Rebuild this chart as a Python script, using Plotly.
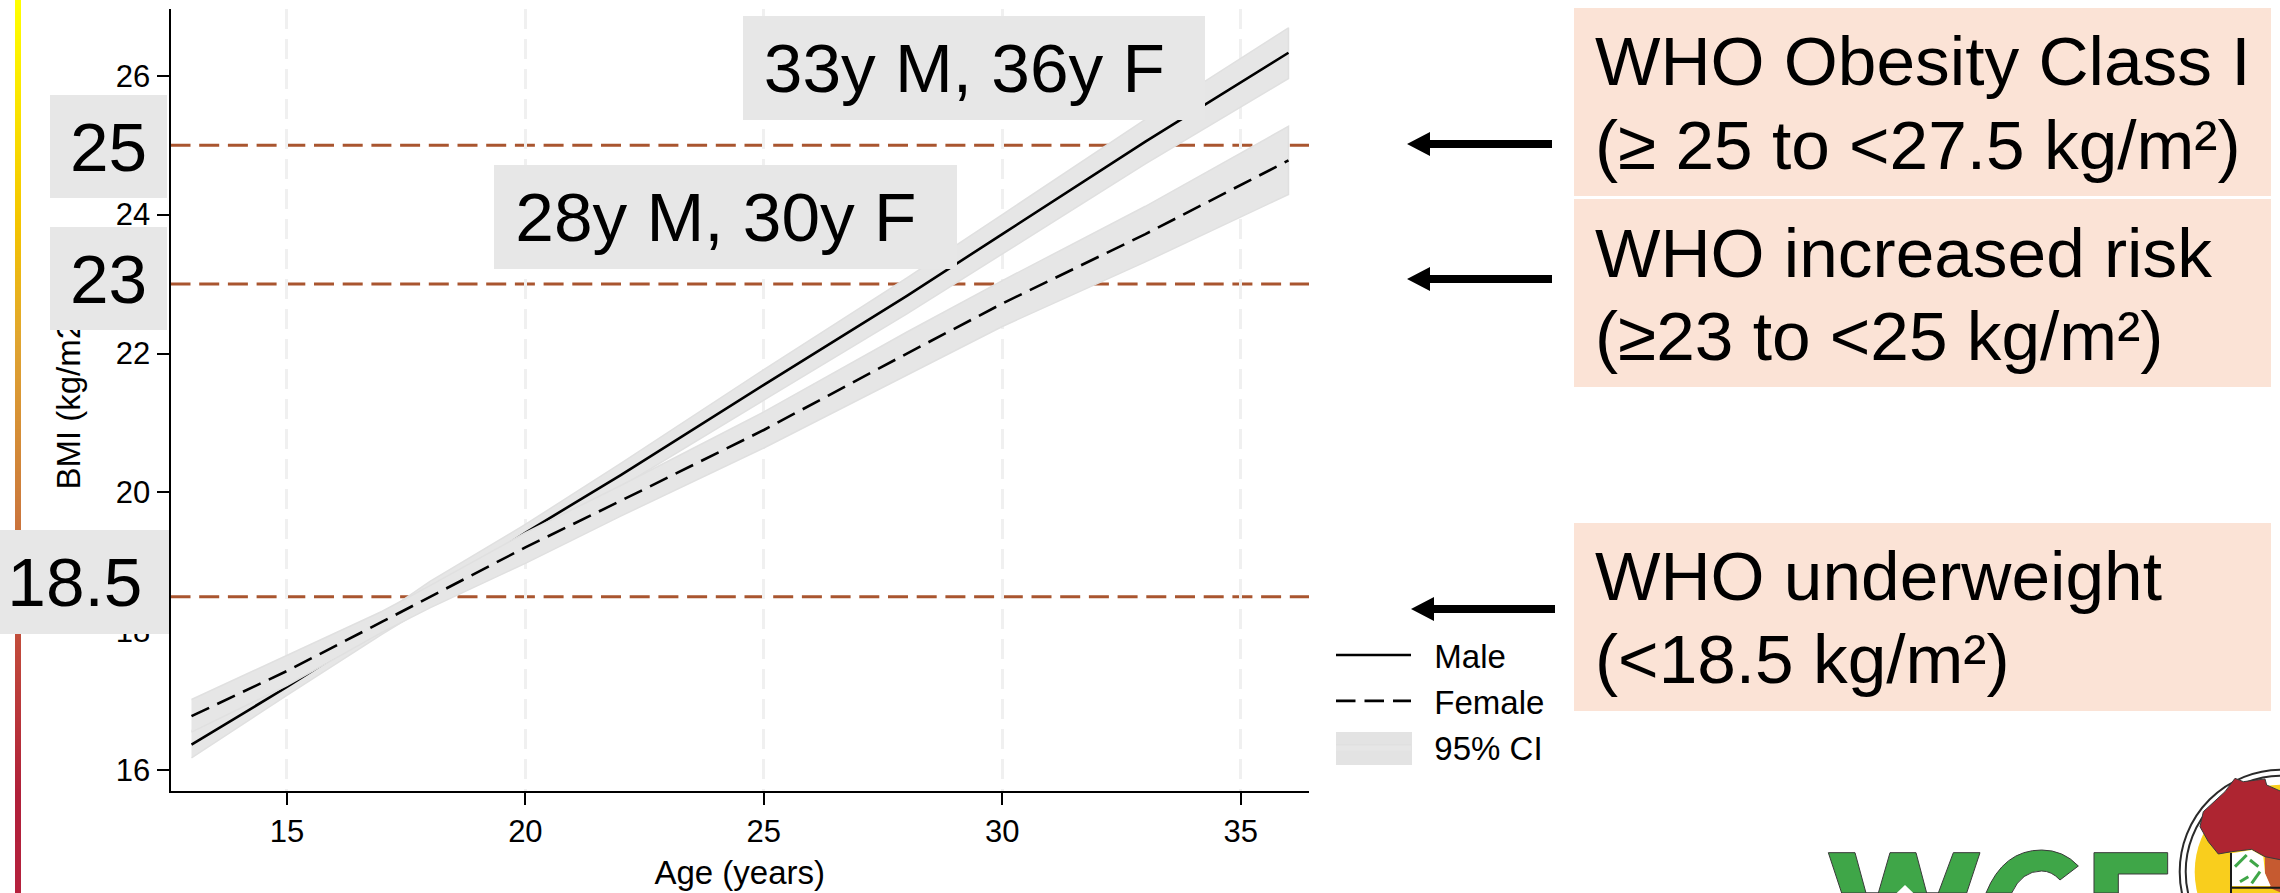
import plotly.graph_objects as go

W, H = 2280, 893

ages = [13, 15, 17, 18, 20, 22, 25, 28, 30, 33, 36]
male = [16.37, 17.20, 18.07, 18.53, 19.42, 20.25, 21.55, 22.83, 23.72, 25.05, 26.33]
male_lo = [16.18, 17.08, 17.96, 18.38, 19.28, 20.08, 21.33, 22.57, 23.44, 24.73, 25.96]
male_hi = [16.57, 17.35, 18.25, 18.72, 19.54, 20.42, 21.77, 23.09, 24.00, 25.37, 26.69]
female = [16.78, 17.43, 18.14, 18.50, 19.21, 19.88, 20.90, 22.00, 22.72, 23.72, 24.78]
female_lo = [16.55, 17.22, 17.99, 18.34, 18.98, 19.66, 20.64, 21.69, 22.39, 23.32, 24.29]
female_hi = [17.02, 17.66, 18.29, 18.66, 19.42, 20.10, 21.16, 22.31, 23.05, 24.12, 25.27]

who_cutoffs = [25, 23, 18.5]
x_ticks = [15, 20, 25, 30, 35]
y_ticks = [16, 18, 20, 22, 24, 26]
x_range = [12.56, 36.43]
y_range = [15.71, 26.96]

age_notes = ["33y M, 36y F", "28y M, 30y F"]
who_notes = [
    ["WHO Obesity Class I", "(≥ 25 to <27.5 kg/m²)"],
    ["WHO increased risk", "(≥23 to <25 kg/m²)"],
    ["WHO underweight", "(<18.5 kg/m²)"],
]
strip_colors = [[0, "#B5213D"], [0.11, "#B0203A"], [0.27, "#C0483B"], [0.43, "#CC7A3C"],
                [0.62, "#E0A530"], [0.75, "#F4C400"], [1, "#FFFF00"]]

FONT = "Liberation Sans"
BAND = "#E6E6E6"
BAND_EDGE = "#E0E0E0"
BROWN = "#A9552F"
PEACH = "#FBE3D6"
BOX = "#E7E7E7"
DASH = "19.5px,9px"
NOTE_SIZE = 69.4

px = lambda x: x / W
py = lambda y: 1 - y / H


def poly(points, fill, line=None, lw=0):
    d = "M " + " L ".join(f"{px(x):.5f} {py(y):.5f}" for x, y in points) + " Z"
    return dict(type="path", xref="paper", yref="paper", path=d, fillcolor=fill,
                line=dict(color=line or fill, width=lw), layer="above")


def rect(x0, y0, x1, y1, fill):
    return dict(type="rect", xref="paper", yref="paper", x0=px(x0), x1=px(x1), y0=py(y0), y1=py(y1),
                fillcolor=fill, line=dict(width=0), layer="above")


def circle(cx, cy, r, fill, line=None, lw=0):
    return dict(type="circle", xref="paper", yref="paper", x0=px(cx - r), x1=px(cx + r), y0=py(cy + r), y1=py(cy - r),
                fillcolor=fill, line=dict(color=line or fill, width=lw), layer="above")


def arrow(tail, tip, y):
    return poly([(tail, y - 4), (tip + 23, y - 4), (tip + 23, y - 12), (tip, y), (tip + 23, y + 12),
                 (tip + 23, y + 4), (tail, y + 4)], "#000000")


fig = go.Figure()


def band(lo, hi, name, show):
    fig.add_trace(go.Scatter(x=ages + ages[::-1], y=hi + lo[::-1], mode="lines", fill="toself", fillcolor=BAND,
                             line=dict(color=BAND_EDGE, width=1.5), name=name, showlegend=show,
                             legendgroup="ci", legendrank=3, hoverinfo="skip", xaxis="x", yaxis="y"))


nb = "\u00a0"
band(male_lo, male_hi, nb + nb + "95% CI", True)
fig.add_trace(go.Scatter(x=ages, y=male, mode="lines", line=dict(color="black", width=2.6), name=nb + nb + "Male",
                         legendgroup="m", legendrank=1))
band(female_lo, female_hi, "95% CI", False)
fig.add_trace(go.Scatter(x=ages, y=female, mode="lines", line=dict(color="black", width=2.6, dash=DASH),
                         name=nb + nb + "Female", legendgroup="f", legendrank=2))

fig.add_trace(go.Heatmap(z=[[i] for i in range(200)], colorscale=strip_colors, showscale=False, zsmooth="best",
                         xaxis="x2", yaxis="y2", hoverinfo="skip"))

shapes = []
for v in who_cutoffs:
    shapes.append(dict(type="line", xref="x", yref="y", x0=x_range[0], x1=x_range[1], y0=v, y1=v, layer="below",
                       line=dict(color=BROWN, width=3, dash="20px,8.7px")))

# peach panels
shapes += [rect(1574, 8, 2271, 196, PEACH), rect(1574, 199, 2271, 387, PEACH), rect(1574, 523, 2271, 711, PEACH)]
# arrows
shapes += [arrow(1552, 1407, 144), arrow(1552, 1407, 279), arrow(1555, 1411, 609)]
# legend swatch for the confidence band
shapes.append(rect(1336, 732, 1412, 765, "#E3E3E3"))

# logo fragment at the lower right corner (artwork, cropped by the page edge)
zx = lambda v: 1800 + v / 3
zy = lambda v: 760 + v / 3
zp = lambda pts: [(zx(a), zy(b)) for a, b in pts]
GREEN = "#3FA648"
shapes.append(poly(zp([(85, 278), (165, 278), (198, 399), (235, 399), (270, 278), (348, 278), (380, 399), (415, 399),
                       (460, 278), (540, 278), (500, 399), (125, 399)]), GREEN, "#3A3A3A", 1))
shapes.append(poly(zp([(315, 375), (340, 399), (290, 399)]), "#FFFFFF"))
c_path = (f"M {px(zx(835)):.5f} {py(zy(318)):.5f} "
          f"Q {px(zx(790)):.5f} {py(zy(270)):.5f} {px(zx(725)):.5f} {py(zy(270)):.5f} "
          f"Q {px(zx(610)):.5f} {py(zy(270)):.5f} {px(zx(558)):.5f} {py(zy(399)):.5f} "
          f"L {px(zx(635)):.5f} {py(zy(399)):.5f} "
          f"Q {px(zx(665)):.5f} {py(zy(333)):.5f} {px(zx(725)):.5f} {py(zy(333)):.5f} "
          f"Q {px(zx(755)):.5f} {py(zy(333)):.5f} {px(zx(780)):.5f} {py(zy(360)):.5f} Z")
shapes.append(dict(type="path", xref="paper", yref="paper", path=c_path, fillcolor=GREEN,
                   line=dict(color="#3A3A3A", width=1), layer="above"))
shapes.append(poly(zp([(882, 278), (1103, 278), (1103, 342), (955, 342), (955, 399), (882, 399)]), GREEN, "#3A3A3A", 1))
shapes.append(circle(2281.7, 871.7, 102, "#FFFFFF", "#2A2A2A", 2))
shapes.append(circle(2281.7, 871.7, 96, "#FFFFFF", "#2A2A2A", 2))
shapes.append(circle(2281.7, 871.7, 87, "#F9CE1D"))
shapes.append(poly(zp([(1395, 280), (1445, 290), (1445, 399), (1412, 385), (1395, 340)]), "#C65A30"))
shapes.append(poly(zp([(1305, 55), (1330, 65), (1395, 57), (1400, 75), (1445, 95), (1445, 300), (1395, 290),
                       (1355, 268), (1295, 275), (1255, 282), (1225, 245), (1200, 200), (1210, 155), (1275, 95)]),
                   "#AE2531", "#3A3A3A", 1))
shapes.append(poly(zp([(1295, 280), (1355, 270), (1390, 290), (1395, 340), (1412, 378), (1295, 378)]), "#FFFFFF"))
for seg in [[(1305, 320), (1340, 285)], [(1320, 365), (1345, 350)], [(1355, 370), (1380, 335)], [(1350, 300), (1375, 320)]]:
    shapes.append(dict(type="line", xref="paper", yref="paper", x0=px(zx(seg[0][0])), y0=py(zy(seg[0][1])),
                       x1=px(zx(seg[1][0])), y1=py(zy(seg[1][1])), line=dict(color=GREEN, width=3), layer="above"))
shapes.append(rect(zx(1290), zy(278), zx(1296), zy(399), "#1A1A1A"))
shapes.append(rect(zx(1290), zy(380), zx(1440), zy(386), "#1A1A1A"))

annotations = []


def box(text, x0, y0, x1, y1):
    annotations.append(dict(text=text, xref="paper", yref="paper", x=px(x0), y=py((y0 + y1) / 2), xanchor="left",
                            yanchor="middle", width=x1 - x0, height=y1 - y0, bgcolor=BOX, borderpad=0, borderwidth=0,
                            showarrow=False, align="center", valign="middle",
                            font=dict(family=FONT, size=NOTE_SIZE, color="black")))


box(str(who_cutoffs[0]), 50, 95, 167, 198)
box(str(who_cutoffs[1]), 50, 227, 167, 330)
box(str(who_cutoffs[2]) + nb, 0, 530, 169, 634)
box(age_notes[0] + nb, 743, 16, 1205, 120)
box(age_notes[1] + nb, 494, 165, 957, 269)

baselines = [(85, 169), (277, 360), (600, 683)]
for lines, bases in zip(who_notes, baselines):
    for t, b in zip(lines, bases):
        annotations.append(dict(text=t, xref="paper", yref="paper", x=px(1594), y=py(b - 24), xanchor="left",
                                yanchor="middle", showarrow=False, borderpad=0,
                                font=dict(family=FONT, size=NOTE_SIZE, color="black")))

axis_common = dict(showline=True, linecolor="black", linewidth=2, ticks="outside", ticklen=12, tickwidth=2,
                   tickcolor="black", tickfont=dict(family=FONT, size=31, color="black"), zeroline=False)

fig.update_layout(
    width=W, height=H, autosize=False, margin=dict(l=0, r=0, t=0, b=0),
    paper_bgcolor="white", plot_bgcolor="white", font=dict(family=FONT, color="black"),
    xaxis=dict(domain=[px(170.5), px(1309)], range=x_range, tickmode="array", tickvals=x_ticks,
               showgrid=True, gridcolor="#F0F0F0", gridwidth=3, griddash="20px,10px", anchor="y",
               title=dict(text="Age (years)", font=dict(family=FONT, size=33, color="black"), standoff=13),
               **axis_common),
    yaxis=dict(domain=[py(790.5), py(9)], range=y_range, tickmode="array", tickvals=y_ticks, showgrid=False,
               anchor="x", title=dict(text="BMI (kg/m2)", font=dict(family=FONT, size=33, color="black"), standoff=25),
               **axis_common),
    xaxis2=dict(domain=[px(15), px(21)], visible=False, anchor="y2", fixedrange=True),
    yaxis2=dict(domain=[0, 1], visible=False, anchor="x2", fixedrange=True),
    shapes=shapes, annotations=annotations,
    legend=dict(x=px(1331), y=py(627), xanchor="left", yanchor="top", itemwidth=75, tracegroupgap=4,
                bgcolor="rgba(0,0,0,0)", font=dict(family=FONT, size=33, color="black"), traceorder="normal"),
)

fig.write_html("out.html", config={"displayModeBar": False},
               post_script="document.body.style.margin='0';document.body.style.overflow='hidden';")
